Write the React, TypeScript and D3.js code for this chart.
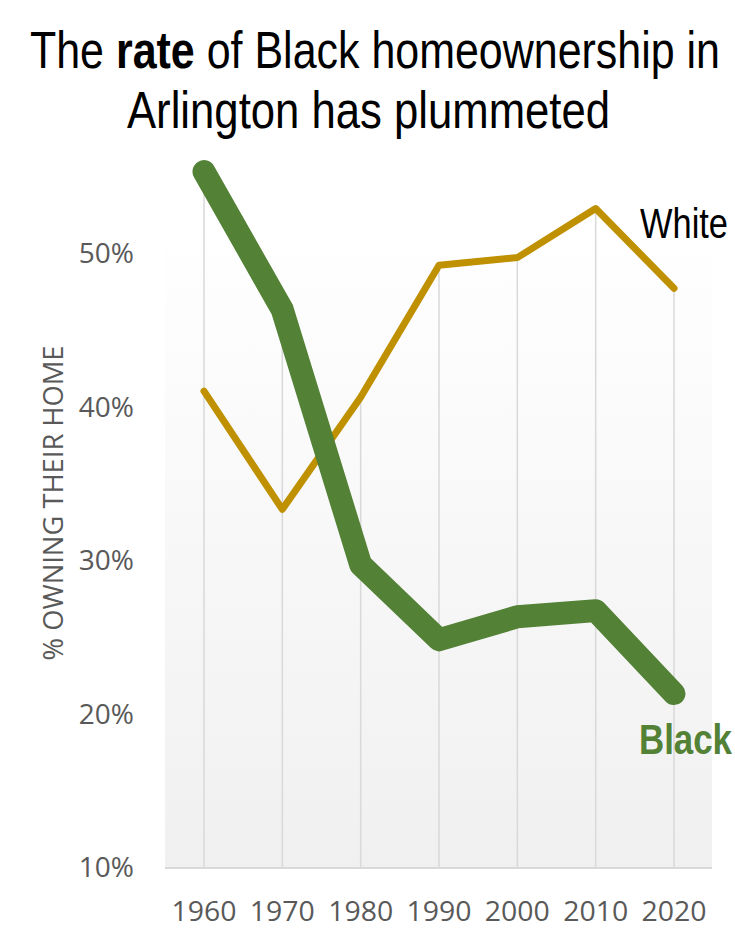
import React from "react";
import * as d3 from "d3";

const years = [1960, 1970, 1980, 1990, 2000, 2010, 2020];
const blackRate = [55.3, 46.3, 29.7, 24.8, 26.3, 26.7, 21.3];
const whiteRate = [41.0, 33.3, 40.6, 49.2, 49.7, 52.9, 47.7];
const yTicks = [10, 20, 30, 40, 50];

const W = 735;
const H = 929;
const plot = { left: 165, right: 712, top: 223, bottom: 868 };

export default function App() {
  const x = d3.scalePoint<number>().domain(years).range([204, 674]);
  const y = d3.scaleLinear().domain([10, 50]).range([867, 253]);
  const line = d3
    .line<number>()
    .x((_, i) => x(years[i]) as number)
    .y((d) => y(d));

  const labelFont = "'Open Sans', 'Noto Sans', sans-serif";
  const narrow = "'Liberation Sans', Arial, sans-serif";

  return (
    <svg
      width={W}
      height={H}
      style={{ position: "absolute", left: 0, top: 0, background: "#fff" }}
    >
      <defs>
        <linearGradient id="bg" x1="0" y1="0" x2="0" y2="1">
          <stop offset="0%" stopColor="#ffffff" />
          <stop offset="100%" stopColor="#f0f0f0" />
        </linearGradient>
      </defs>
      <rect
        x={plot.left}
        y={plot.top}
        width={plot.right - plot.left}
        height={plot.bottom - plot.top}
        fill="url(#bg)"
      />
      {years.map((yr, i) => (
        <line
          key={yr}
          x1={x(yr)}
          x2={x(yr)}
          y1={y(Math.max(blackRate[i], whiteRate[i]))}
          y2={plot.bottom}
          stroke="#d9d9d9"
          strokeWidth={1.5}
        />
      ))}
      <line
        x1={plot.left}
        x2={plot.right}
        y1={plot.bottom}
        y2={plot.bottom}
        stroke="#d9d9d9"
        strokeWidth={2}
      />
      {yTicks.map((t) => (
        <text
          key={t}
          x={134}
          y={y(t)}
          dy="0.36em"
          textAnchor="end"
          fontFamily={labelFont}
          fontSize={28}
          fill="#595959"
        >
          {t}%
        </text>
      ))}
      {years.map((yr) => (
        <text
          key={yr}
          x={x(yr)}
          y={921}
          textAnchor="middle"
          fontFamily={labelFont}
          fontSize={28}
          fill="#595959"
          textLength={65}
          lengthAdjust="spacingAndGlyphs"
        >
          {yr}
        </text>
      ))}
      <text
        transform={`translate(63, 503) rotate(-90)`}
        textAnchor="middle"
        fontFamily={labelFont}
        fontSize={27}
        fill="#595959"
        textLength={315}
        lengthAdjust="spacingAndGlyphs"
      >
        % OWNING THEIR HOME
      </text>
      <path
        d={line(whiteRate) || ""}
        fill="none"
        stroke="#bf9000"
        strokeWidth={7}
        strokeLinejoin="round"
        strokeLinecap="round"
      />
      <path
        d={line(blackRate) || ""}
        fill="none"
        stroke="#538135"
        strokeWidth={23}
        strokeLinejoin="round"
        strokeLinecap="round"
      />
      <text
        x={640}
        y={238}
        fontFamily={narrow}
        fontSize={42}
        fill="#000"
        textLength={88}
        lengthAdjust="spacingAndGlyphs"
      >
        White
      </text>
      <text
        x={639}
        y={754}
        fontFamily={narrow}
        fontSize={42}
        fontWeight="bold"
        fill="#538135"
        textLength={93}
        lengthAdjust="spacingAndGlyphs"
      >
        Black
      </text>
      <text
        x={30}
        y={68}
        fontFamily={narrow}
        fontSize={52}
        fill="#000"
        textLength={690}
        lengthAdjust="spacingAndGlyphs"
      >
        The <tspan fontWeight="bold">rate</tspan> of Black homeownership in
      </text>
      <text
        x={127}
        y={128}
        fontFamily={narrow}
        fontSize={52}
        fill="#000"
        textLength={483}
        lengthAdjust="spacingAndGlyphs"
      >
        Arlington has plummeted
      </text>
    </svg>
  );
}
